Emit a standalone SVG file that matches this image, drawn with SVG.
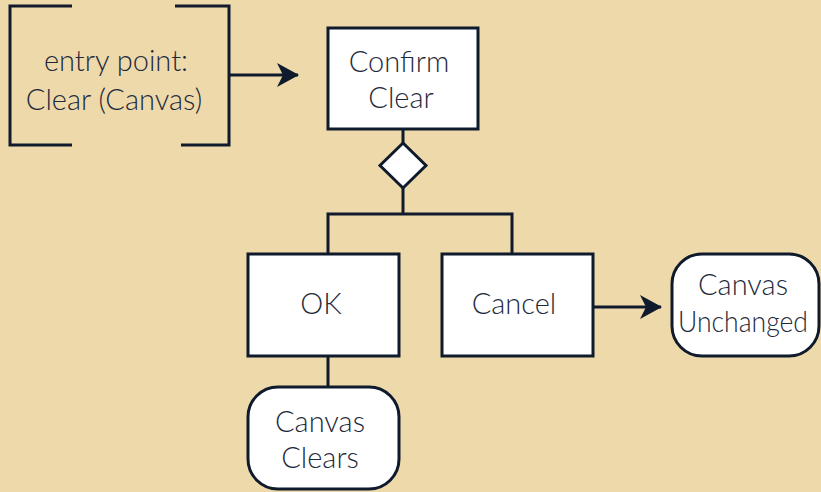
<svg xmlns="http://www.w3.org/2000/svg" width="821" height="492" viewBox="0 0 821 492">
  <defs>
    <marker id="arrow" viewBox="0 0 22 24" refX="21" refY="12" markerWidth="22" markerHeight="24" markerUnits="userSpaceOnUse" orient="auto">
      <path d="M0,0 L22,12 L0,24 L6,12 Z" fill="#0f1b2d"/>
    </marker>
    <style>
      .box { fill: #ffffff; stroke: #0f1b2d; stroke-width: 3; }
      .line { fill: none; stroke: #0f1b2d; stroke-width: 3; }
      .label { font-family: "Lato", "Open Sans", "Liberation Sans", sans-serif; font-weight: 300; font-size: 29px; fill: #1e2a3b; text-anchor: middle; }
    </style>
  </defs>
  <rect width="821" height="492" fill="#eed9aa"/>

  <g id="connectors">
    <line class="line" x1="230" y1="75" x2="298" y2="75" marker-end="url(#arrow)"/>
    <line class="line" x1="403" y1="129" x2="403" y2="143"/>
    <polyline class="line" points="403,188 403,214"/>
    <polyline class="line" points="328,254 328,214 512,214 512,254"/>
    <line class="line" x1="328" y1="356" x2="328" y2="387"/>
    <line class="line" x1="594" y1="307" x2="661" y2="307" marker-end="url(#arrow)"/>
  </g>

  <g id="entry-point">
    <polyline class="line" points="72,6 10,6 10,145 72,145"/>
    <polyline class="line" points="175,6 229,6 229,145 181,145"/>
    <text class="label" x="116" y="71">entry point:</text>
    <text class="label" x="114" y="110">Clear (Canvas)</text>
  </g>

  <g id="confirm-clear">
    <rect class="box" x="328" y="28" width="150" height="101"/>
    <text class="label" x="399" y="72">Confirm</text>
    <text class="label" x="401" y="108">Clear</text>
  </g>

  <g id="decision">
    <polygon class="box" points="403,143 426,165.5 403,188 380,165.5"/>
  </g>

  <g id="ok">
    <rect class="box" x="248" y="254" width="151" height="102"/>
    <text class="label" x="321" y="314">OK</text>
  </g>

  <g id="cancel">
    <rect class="box" x="442" y="254" width="151" height="102"/>
    <text class="label" x="514" y="314">Cancel</text>
  </g>

  <g id="canvas-clears">
    <rect class="box" x="248" y="387" width="151" height="102" rx="30" ry="30"/>
    <text class="label" x="320" y="432">Canvas</text>
    <text class="label" x="320" y="468">Clears</text>
  </g>

  <g id="canvas-unchanged">
    <rect class="box" x="672" y="254" width="147" height="102" rx="30" ry="30"/>
    <text class="label" x="743" y="295">Canvas</text>
    <text class="label" x="743" y="332" textLength="130" lengthAdjust="spacingAndGlyphs">Unchanged</text>
  </g>
</svg>
